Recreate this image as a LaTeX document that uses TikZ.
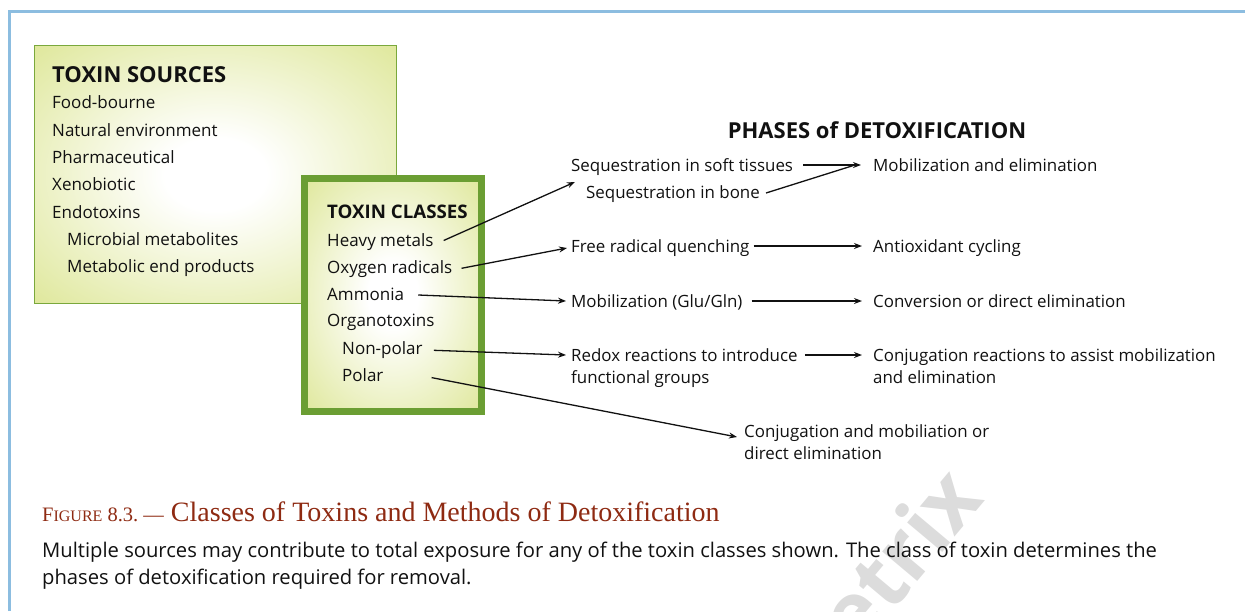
\documentclass[tikz,border=0pt]{standalone}
\usepackage{fontspec}
\setmainfont{Open Sans}
\newfontfamily\capfont{Liberation Serif}
\usetikzlibrary{arrows.meta,positioning,calc}
\definecolor{cFrame}{HTML}{8CBDE0}
\definecolor{cLime}{HTML}{DAE48C}
\definecolor{cLeaf}{HTML}{7AA83C}
\definecolor{cMoss}{HTML}{6B9E33}
\definecolor{cInk}{HTML}{111111}
\definecolor{cRust}{HTML}{8E2A12}
\definecolor{cMark}{HTML}{DCDCDC}
\pgfdeclareradialshading{boxglow}{\pgfpoint{0bp}{0bp}}{color(0bp)=(white); color(7bp)=(white); color(40bp)=(cLime); color(50bp)=(cLime)}
\tikzset{
  txt/.style={font=\fontsize{17}{20}\selectfont,text=cInk,inner sep=0pt,anchor=base west},
  head/.style={txt,font=\fontsize{18.7}{22}\selectfont\bfseries},
  phase/.style={txt,align=left,font=\fontsize{16.9}{22}\selectfont},
  arr/.style={-{Stealth[length=8pt,width=6pt]},line width=1.3pt,color=cInk},
  lin/.style={line width=1.3pt,color=cInk},
}

\begin{document}
\begin{tikzpicture}[x=1pt,y=-1pt,
    panel/.style={shade,shading=boxglow,inner sep=0pt,outer sep=0pt,anchor=north west}]
  \useasboundingbox (0,0) rectangle (1245,611);
  % watermark
  \begin{scope}
    \clip (0,0) rectangle (1245,611);
    \node[font=\fontsize{84}{84}\selectfont\bfseries,text=cMark,rotate=50] (mark) at (898,556) {etrix};
  \end{scope}
  \draw[cFrame,line width=2.5pt] (9.5,611) -- (9.5,11.5) -- (1245,11.5);

  % toxin sources
  \node[panel,draw=cLeaf,line width=1.5pt,minimum width=362pt,minimum height=258pt] (sources) at (34.5,45.5) {};
  \node[head,font=\fontsize{22}{24}\selectfont\bfseries] (srchead) at (52,82) {TOXIN SOURCES};
  \foreach \t/\x/\y [count=\i] in {Food-bourne/52/108.5,Natural environment/52/136,
      Pharmaceutical/52/163.3,Xenobiotic/52/190.6,Endotoxins/52/218,
      Microbial metabolites/67/245.3,Metabolic end products/67/272.6}
    \node[txt] (src\i) at (\x,\y) {\t};

  % toxin classes
  \node[panel,draw=cMoss,line width=7pt,minimum width=177pt,minimum height=233pt] (classes) at (304.5,178.5) {};
  \node[head] (clshead) at (327,218.3) {TOXIN CLASSES};
  \foreach \n/\t/\x/\y in {heavy/Heavy metals/327/246.5,oxygen/Oxygen radicals/327/273.3,
      ammonia/Ammonia/327/300,organo/Organotoxins/327/326.8,
      nonpolar/Non-polar/342/354.3,polar/Polar/342/381.6}
    \node[txt] (\n) at (\x,\y) {\t};

  % phases
  \node[head,font=\fontsize{22}{24}\selectfont\bfseries,anchor=base] (phases) at (877,138) {PHASES of DETOXIFICATION};
  \node[phase] (soft) at (571,171) {Sequestration in soft tissues};
  \node[phase] (bone) at (586,198) {Sequestration in bone};
  \node[phase] (mob) at (873,171) {Mobilization and elimination};
  \node[phase] (quench) at (571,252) {Free radical quenching};
  \node[phase] (antiox) at (873,252) {Antioxidant cycling};
  \node[phase] (glu) at (571,307) {Mobilization (Glu/Gln)};
  \node[phase] (conv) at (873,307) {Conversion or direct elimination};
  \node[phase] (redox) at (571,383) {Redox reactions to introduce\\functional groups};
  \node[phase] (conjreac) at (873,383) {Conjugation reactions to assist mobilization\\and elimination};
  \node[phase] (conjmob) at (744,459) {Conjugation and mobiliation or\\direct elimination};
  \coordinate (seqin) at (575,182);
  \coordinate (mobin) at ([xshift=-12pt,yshift=6pt]mob.base west);

  % arrows
  \draw[arr] ([xshift=10pt,yshift=6pt]heavy.base east) -- (seqin);
  \draw[arr] ([xshift=9pt,yshift=5pt]oxygen.base east) -- ([xshift=-4pt,yshift=4pt]quench.base west);
  \draw[arr] ([xshift=14pt,yshift=5pt]ammonia.base east) -- ([xshift=-5pt,yshift=6pt]glu.base west);
  \draw[arr] ([xshift=11pt,yshift=4pt]nonpolar.base east) -- ([xshift=-5pt,yshift=28pt]redox.base west);
  \draw[arr] ([xshift=48pt,yshift=4pt]polar.base east) -- ([xshift=-7pt,yshift=22pt]conjmob.base west);
  \draw[arr] ([xshift=10pt,yshift=6pt]soft.base east) -- (mobin);
  \draw[lin] ([xshift=6pt,yshift=5pt]bone.base east) -- ([xshift=-6pt]mobin);
  \foreach \a/\b/\s/\h in {quench/antiox/4/6,glu/conv/9/6,redox/conjreac/7/28}
    \draw[arr] ([xshift=\s pt,yshift=\h pt]\a.base east) -- ([xshift=-11pt,yshift=\h pt]\b.base west);

  % caption
  \node[txt,font=\capfont\fontsize{28}{30}\selectfont,text=cRust] (figcap) at (42,521)
    {{\fontsize{20.5}{24}\selectfont F{\fontsize{16}{20}\selectfont IGURE} 8.3.\ —} Classes of Toxins and Methods of Detoxification};
  \node[txt,align=left,font=\fontsize{20.2}{27}\selectfont] (body) at (42,584)
    {Multiple sources may contribute to total exposure for any of the toxin classes shown. The class of toxin determines the\\phases of detoxification required for removal.};
\end{tikzpicture}
\end{document}
